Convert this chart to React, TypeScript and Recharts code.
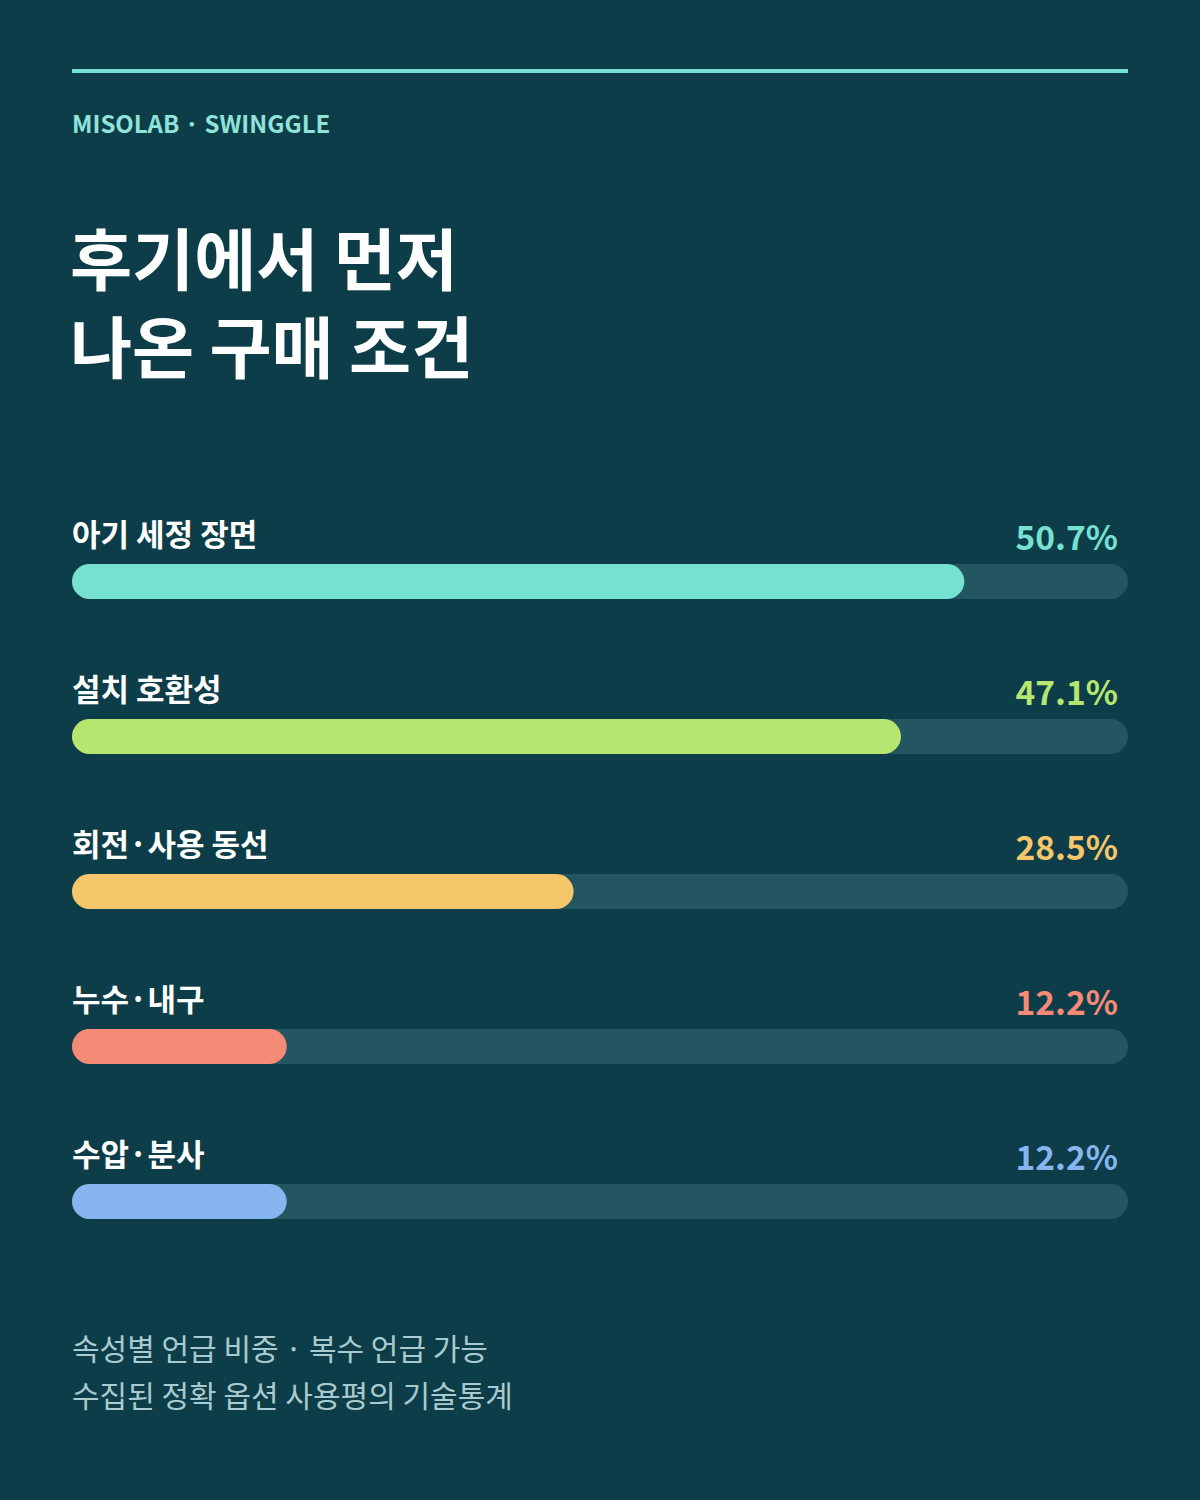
import { BarChart, Bar, XAxis, YAxis, LabelList } from "recharts";

// Purchase conditions mentioned first in reviews — share of mentions (%).

const categories = ["아기 세정 장면", "설치 호환성", "회전·사용 동선", "누수·내구", "수압·분사"];
const shares = [50.7, 47.1, 28.5, 12.2, 12.2];
const barColors = ["#76e0d1", "#b6e66f", "#f6c66a", "#f58a77", "#87b5ef"];
const xTicks = [0, 60];

const BG = "#0d3d48";
const TRACK = "#245661";
const FONT = "'Noto Sans CJK KR', 'Noto Sans', sans-serif";

const W = 1200;
const MARGIN_X = 72;

const data = categories.map((name, i) => ({ name, value: shares[i], color: barColors[i] }));

function RowLabel(props: any) {
  const { x, y, index } = props;
  const row = data[index];
  return (
    <g>
      <text x={x} y={y - 18} fill="#ffffff" fontSize={31} fontWeight={700} fontFamily={FONT}>
        {row.name}
      </text>
      <text
        x={W - MARGIN_X - 10}
        y={y - 14}
        fill={row.color}
        fontSize={33.5}
        fontWeight={700}
        textAnchor="end"
        fontFamily={FONT}
      >
        {row.value.toFixed(1)}%
      </text>
    </g>
  );
}

export default function App() {
  return (
    <div
      style={{
        position: "absolute",
        left: 0,
        top: 0,
        width: W,
        height: 1500,
        background: BG,
        fontFamily: FONT,
        overflow: "hidden",
      }}
    >
      <div style={{ position: "absolute", left: 72, top: 69, width: 1056, height: 4, background: "#74ded2" }} />
      <div
        style={{
          position: "absolute",
          left: 72,
          top: 106,
          fontSize: 24,
          fontWeight: 700,
          color: "#8fe3d8",
          lineHeight: "34px",
        }}
      >
        MISOLAB · SWINGGLE
      </div>
      <div
        style={{
          position: "absolute",
          left: 70,
          top: 212,
          fontSize: 67.5,
          fontWeight: 700,
          color: "#ffffff",
          lineHeight: "88px",
        }}
      >
        후기에서 먼저
        <br />
        나온 구매 조건
      </div>

      <div style={{ position: "absolute", left: 0, top: 504 }}>
        <BarChart
          width={W}
          height={775}
          data={data}
          layout="vertical"
          margin={{ top: 0, right: MARGIN_X, bottom: 0, left: MARGIN_X }}
          barSize={35}
        >
          <XAxis type="number" domain={[0, 60]} ticks={xTicks} hide />
          <YAxis type="category" dataKey="name" hide />
          <Bar
            dataKey="value"
            radius={17.5}
            background={{ fill: TRACK, radius: 17.5 } as any}
            isAnimationActive={false}
            shape={(p: any) => (
              <rect x={p.x} y={p.y} width={p.width} height={p.height} rx={17.5} ry={17.5} fill={data[p.index].color} />
            )}
          >
            <LabelList dataKey="value" content={RowLabel} />
          </Bar>
        </BarChart>
      </div>

      <div
        style={{
          position: "absolute",
          left: 72,
          top: 1324,
          fontSize: 30,
          color: "#a9cbcf",
          lineHeight: "47px",
        }}
      >
        속성별 언급 비중 · 복수 언급 가능
        <br />
        수집된 정확 옵션 사용평의 기술통계
      </div>
    </div>
  );
}
